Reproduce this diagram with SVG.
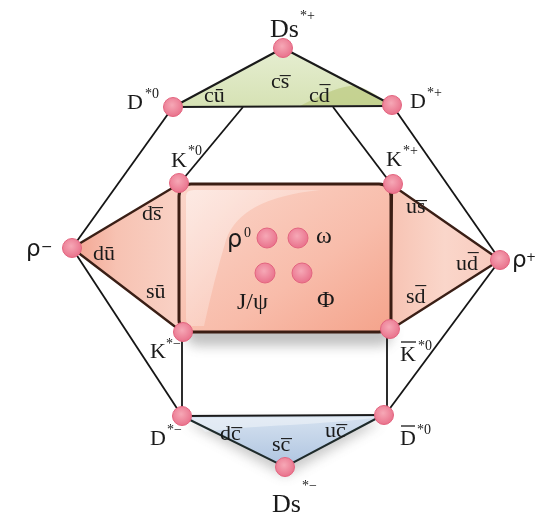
<svg xmlns="http://www.w3.org/2000/svg" width="539" height="519" viewBox="0 0 539 519">
<defs>
<radialGradient id="node" cx="45%" cy="40%" r="60%">
<stop offset="0" stop-color="#f6a8b6"/>
<stop offset="1" stop-color="#e9728c"/>
</radialGradient>
<linearGradient id="rectG" x1="0" y1="0" x2="1" y2="1">
<stop offset="0" stop-color="#fbd6ca"/>
<stop offset="0.6" stop-color="#f8bcaa"/>
<stop offset="1" stop-color="#f4a38b"/>
</linearGradient>
<linearGradient id="leftG" x1="0" y1="0" x2="1" y2="0">
<stop offset="0" stop-color="#f2a390"/>
<stop offset="0.4" stop-color="#f7c2b2"/>
<stop offset="1" stop-color="#f9d2c6"/>
</linearGradient>
<linearGradient id="rightG" x1="0" y1="0" x2="1" y2="0">
<stop offset="0" stop-color="#f7c3b3"/>
<stop offset="0.5" stop-color="#fad6ca"/>
<stop offset="1" stop-color="#f8cabd"/>
</linearGradient>
<linearGradient id="greenG" x1="0" y1="0" x2="0" y2="1">
<stop offset="0" stop-color="#e6eed2"/>
<stop offset="1" stop-color="#d6e2b4"/>
</linearGradient>
<linearGradient id="blueG" x1="0" y1="0" x2="0" y2="1">
<stop offset="0" stop-color="#d6e2f0"/>
<stop offset="1" stop-color="#aec4e0"/>
</linearGradient>
<linearGradient id="gloss" x1="0" y1="0" x2="1" y2="1">
<stop offset="0" stop-color="#ffffff" stop-opacity="0.5"/>
<stop offset="1" stop-color="#ffffff" stop-opacity="0.05"/>
</linearGradient>
<filter id="blur" x="-20%" y="-20%" width="140%" height="160%">
<feGaussianBlur stdDeviation="6"/>
</filter>
</defs>
<style>
.lbl{font-family:"Liberation Serif","Times New Roman",serif;fill:#1a1a1a}
.big{font-size:26px}
.med{font-size:22px}
.q{font-size:22px}
.in{font-size:24px}
.sup{font-size:14px}
.sans{font-family:"DejaVu Sans","Liberation Sans",sans-serif;fill:#1a1a1a}
.conn{stroke:#151515;stroke-width:1.8;fill:none}
.edge{stroke:#3a1f16;stroke-width:2.4;stroke-linejoin:round}
.node{fill:url(#node);stroke:#e3647f;stroke-width:1}
.bar{stroke:#1a1a1a;stroke-width:1.3}
</style>
<rect width="539" height="519" fill="#ffffff"/>

<g id="shadows" opacity="0.45">
<rect x="186" y="196" width="206" height="150" rx="12" fill="#777" filter="url(#blur)"/>
<polygon points="186,422 381,422 285,476" fill="#888" filter="url(#blur)"/>
</g>

<g id="connectors">
<line class="conn" x1="72" y1="248" x2="173" y2="107"/>
<line class="conn" x1="72" y1="248" x2="182" y2="416"/>
<line class="conn" x1="243" y1="107" x2="179" y2="184"/>
<line class="conn" x1="333" y1="107" x2="392" y2="185"/>
<line class="conn" x1="392" y1="105" x2="500" y2="260"/>
<line class="conn" x1="500" y1="260" x2="385" y2="415"/>
<line class="conn" x1="182" y1="332" x2="182" y2="416"/>
<line class="conn" x1="387" y1="330" x2="387" y2="415"/>
</g>

<g id="top-triangle">
<polygon points="173,107 283,48 392,105" fill="url(#greenG)"/>
<path d="M300,106 C320,96 335,88 350,86 C362,84 375,95 392,105 Z" fill="#bccb80" opacity="0.7"/>
<polyline points="173,107 283,48 392,105" fill="none" stroke="#1a1a1a" stroke-width="2"/>
<line x1="173" y1="107" x2="392" y2="106" stroke="#1a1a1a" stroke-width="2.2"/>
</g>

<g id="bottom-triangle">
<polygon points="182,416 383,415 285,467" fill="url(#blueG)"/>
<path d="M192,418 L378,417 C330,425 250,425 205,432 Z" fill="#eef3f9" opacity="0.6"/>
<polyline points="182,416 285,467 383,415" fill="none" stroke="#1e2a2a" stroke-width="2"/>
<line x1="182" y1="416" x2="383" y2="415" stroke="#1a1a1a" stroke-width="2.2"/>
</g>

<g id="left-triangle">
<polygon class="edge" points="72,248 179,184 182,332" fill="url(#leftG)"/>
</g>
<g id="right-triangle">
<polygon class="edge" points="392,185 500,260 390,330" fill="url(#rightG)"/>
</g>

<g id="center-box">
<rect x="179" y="184" width="212" height="148" rx="12" fill="url(#rectG)" stroke="#3b1d13" stroke-width="3"/>
<path d="M186,196 Q186,190 194,190 L320,190 Q240,198 226,240 Q214,280 204,326 L192,326 Q186,326 186,318 Z" fill="url(#gloss)"/>
</g>

<g id="Ds-star-plus">
<circle class="node" cx="283" cy="48" r="9.5"/>
<text class="lbl big" x="270" y="37">Ds</text>
<text class="lbl sup" x="300" y="20">*+</text>
</g>
<g id="D-star-0">
<circle class="node" cx="173" cy="107" r="9.5"/>
<text class="lbl med" x="127" y="109">D</text>
<text class="lbl sup" x="145" y="98">*0</text>
</g>
<g id="D-star-plus">
<circle class="node" cx="392" cy="105" r="9.5"/>
<text class="lbl med" x="410" y="108">D</text>
<text class="lbl sup" x="427" y="97">*+</text>
</g>
<g id="K-star-0">
<circle class="node" cx="179" cy="183" r="9.5"/>
<text class="lbl med" x="171" y="167">K</text>
<text class="lbl sup" x="188" y="155">*0</text>
</g>
<g id="K-star-plus">
<circle class="node" cx="393" cy="184" r="9.5"/>
<text class="lbl med" x="386" y="166">K</text>
<text class="lbl sup" x="403" y="155">*+</text>
</g>
<g id="rho-minus">
<circle class="node" cx="72" cy="248" r="9.5"/>
<text class="sans" font-size="23" x="26" y="256">ρ</text>
<text class="sans" font-size="14" x="41" y="251">−</text>
</g>
<g id="rho-plus">
<circle class="node" cx="500" cy="260" r="9.5"/>
<text class="sans" font-size="23" x="512" y="267">ρ</text>
<text class="sans" font-size="12" x="526" y="261">+</text>
</g>
<g id="K-star-minus">
<circle class="node" cx="183" cy="332" r="9.5"/>
<text class="lbl med" x="150" y="358">K</text>
<text class="lbl sup" x="166" y="348">*−</text>
</g>
<g id="Kbar-star-0">
<circle class="node" cx="390" cy="329" r="9.5"/>
<text class="lbl med" x="400" y="361">K</text>
<line class="bar" x1="401" y1="342" x2="416" y2="342"/>
<text class="lbl sup" x="418" y="350">*0</text>
</g>
<g id="D-star-minus">
<circle class="node" cx="182" cy="416" r="9.5"/>
<text class="lbl med" x="150" y="445">D</text>
<text class="lbl sup" x="167" y="434">*−</text>
</g>
<g id="Dbar-star-0">
<circle class="node" cx="384" cy="415" r="9.5"/>
<text class="lbl med" x="400" y="445">D</text>
<line class="bar" x1="401" y1="426" x2="415" y2="426"/>
<text class="lbl sup" x="417" y="434">*0</text>
</g>
<g id="Ds-star-minus">
<circle class="node" cx="285" cy="467" r="9.5"/>
<text class="lbl big" x="272" y="512">Ds</text>
<text class="lbl sup" x="302" y="490">*−</text>
</g>

<g id="quarks">
<text class="lbl q" x="271" y="88">cs̅</text>
<text class="lbl q" x="204" y="102">cū</text>
<text class="lbl q" x="309" y="102">cd̅</text>
<text class="lbl q" x="142" y="220">ds̅</text>
<text class="lbl q" x="93" y="260">dū</text>
<text class="lbl q" x="146" y="298">sū</text>
<text class="lbl q" x="406" y="213">us̅</text>
<text class="lbl q" x="456" y="270">ud̅</text>
<text class="lbl q" x="406" y="303">sd̅</text>
<text class="lbl q" x="220" y="440">dc̅</text>
<text class="lbl q" x="272" y="451">sc̅</text>
<text class="lbl q" x="325" y="437">uc̅</text>
</g>

<g id="rho0">
<circle class="node" cx="267" cy="238" r="10"/>
<text class="sans" font-size="24" x="227" y="247">ρ</text>
<text class="lbl sup" x="244" y="237">0</text>
</g>
<g id="omega">
<circle class="node" cx="298" cy="238" r="10"/>
<text class="lbl in" x="316" y="243">ω</text>
</g>
<g id="jpsi">
<circle class="node" cx="265" cy="273" r="10"/>
<text class="lbl in" x="237" y="309">J/ψ</text>
</g>
<g id="phi">
<circle class="node" cx="302" cy="273" r="10"/>
<text class="lbl in" x="317" y="307">Φ</text>
</g>
</svg>
